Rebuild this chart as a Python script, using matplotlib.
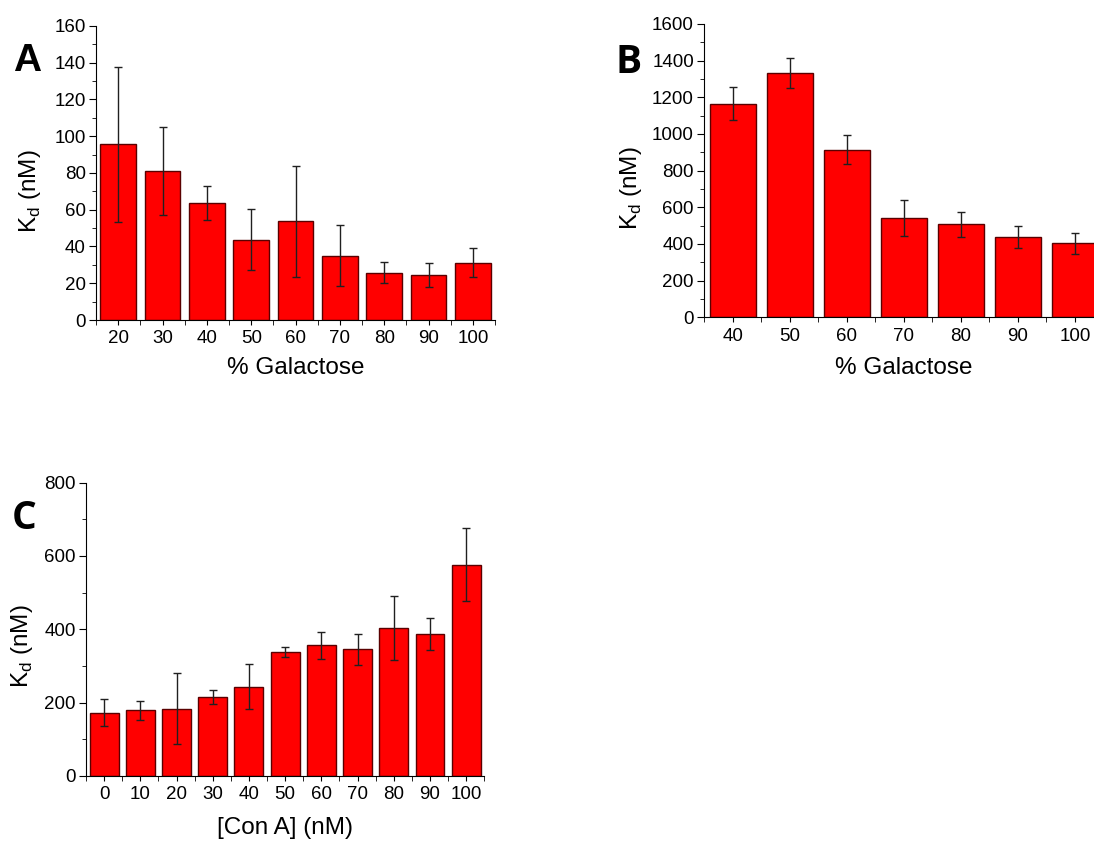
import numpy as np
import matplotlib.pyplot as plt
from matplotlib.ticker import MultipleLocator

# Panel A: Kd vs % galactose
galA = [20, 30, 40, 50, 60, 70, 80, 90, 100]
kdA = [95.6, 81.3, 63.7, 43.7, 53.7, 35.0, 25.8, 24.3, 31.2]
errA = [42.3, 24.0, 9.4, 16.7, 30.3, 16.5, 5.6, 6.5, 7.8]

# Panel B: Kd vs % galactose
galB = [40, 50, 60, 70, 80, 90, 100]
kdB = [1165, 1333, 914, 543, 507, 440, 404]
errB = [90, 83, 80, 98, 67, 60, 58]

# Panel C: Kd vs [Con A]
conC = [0, 10, 20, 30, 40, 50, 60, 70, 80, 90, 100]
kdC = [173, 179, 183, 215, 244, 338, 356, 346, 404, 387, 576]
errC = [36, 25, 97, 20, 61, 14, 36, 42, 87, 43, 100]

plt.rcParams['font.family'] = ['Liberation Sans', 'DejaVu Sans']
plt.rcParams['mathtext.fontset'] = 'custom'
plt.rcParams['mathtext.rm'] = 'Liberation Sans'

fig = plt.figure(figsize=(10.94, 8.41), dpi=100)


def panel(rect, x, y, err, xlim, ylim, ymaj, ymin, xlabel, letter, lpos, lfont,
          xlab_y, ylab_xy):
    ax = fig.add_axes(rect)
    ax.bar(x, y, width=8, color='#ff0000', edgecolor='#5a0000', linewidth=1.0, zorder=2)
    ax.errorbar(x, y, yerr=err, fmt='none', ecolor='#202020', elinewidth=1.0,
                capsize=2.6, capthick=1.0, zorder=3)
    ax.set_xlim(*xlim)
    ax.set_ylim(*ylim)
    ax.spines['top'].set_visible(False)
    ax.spines['right'].set_visible(False)
    ax.set_xticks(x)
    ax.set_xticks([v + 5 for v in [x[0] - 10] + list(x)], minor=True)
    ax.yaxis.set_major_locator(MultipleLocator(ymaj))
    ax.yaxis.set_minor_locator(MultipleLocator(ymin))
    ax.tick_params(axis='both', which='major', direction='out', labelsize=13.5)
    ax.tick_params(axis='x', which='major', pad=4)
    ax.tick_params(axis='y', which='major', length=5, pad=2.5)
    ax.tick_params(axis='y', which='minor', length=3)
    ax.tick_params(axis='x', which='both', length=3.5)
    ax.set_xlabel(xlabel, fontsize=17.5, va='center')
    ax.xaxis.set_label_coords(0.5, xlab_y)
    ax.set_ylabel(r'K$_\mathregular{d}$ (nM)', fontsize=17.5, va='center')
    ax.yaxis.set_label_coords(*ylab_xy)
    fig.text(lpos[0], lpos[1], letter, fontsize=28, fontweight='bold',
             family=lfont, ha='center', va='center')
    return ax


panel([0.0878, 0.6195, 0.3647, 0.3496], galA, kdA, errA, (15, 105), (0, 160),
      20, 10, '% Galactose', 'A', (0.0245, 0.928), 'Liberation Sans',
      -0.163, (-0.165, 0.439))
panel([0.6438, 0.6227, 0.3649, 0.3488], galB, kdB, errB, (35, 105), (0, 1600),
      200, 100, '% Galactose', 'B', (0.575, 0.926), 'Open Sans',
      -0.173, (-0.184, 0.441))
panel([0.0786, 0.0773, 0.3641, 0.3488], conC, kdC, errC, (-5, 105), (0, 800),
      200, 100, '[Con A] (nM)', 'C', (0.0225, 0.384), 'Open Sans',
      -0.177, (-0.161, 0.443))

plt.savefig('out.png', dpi=100)
